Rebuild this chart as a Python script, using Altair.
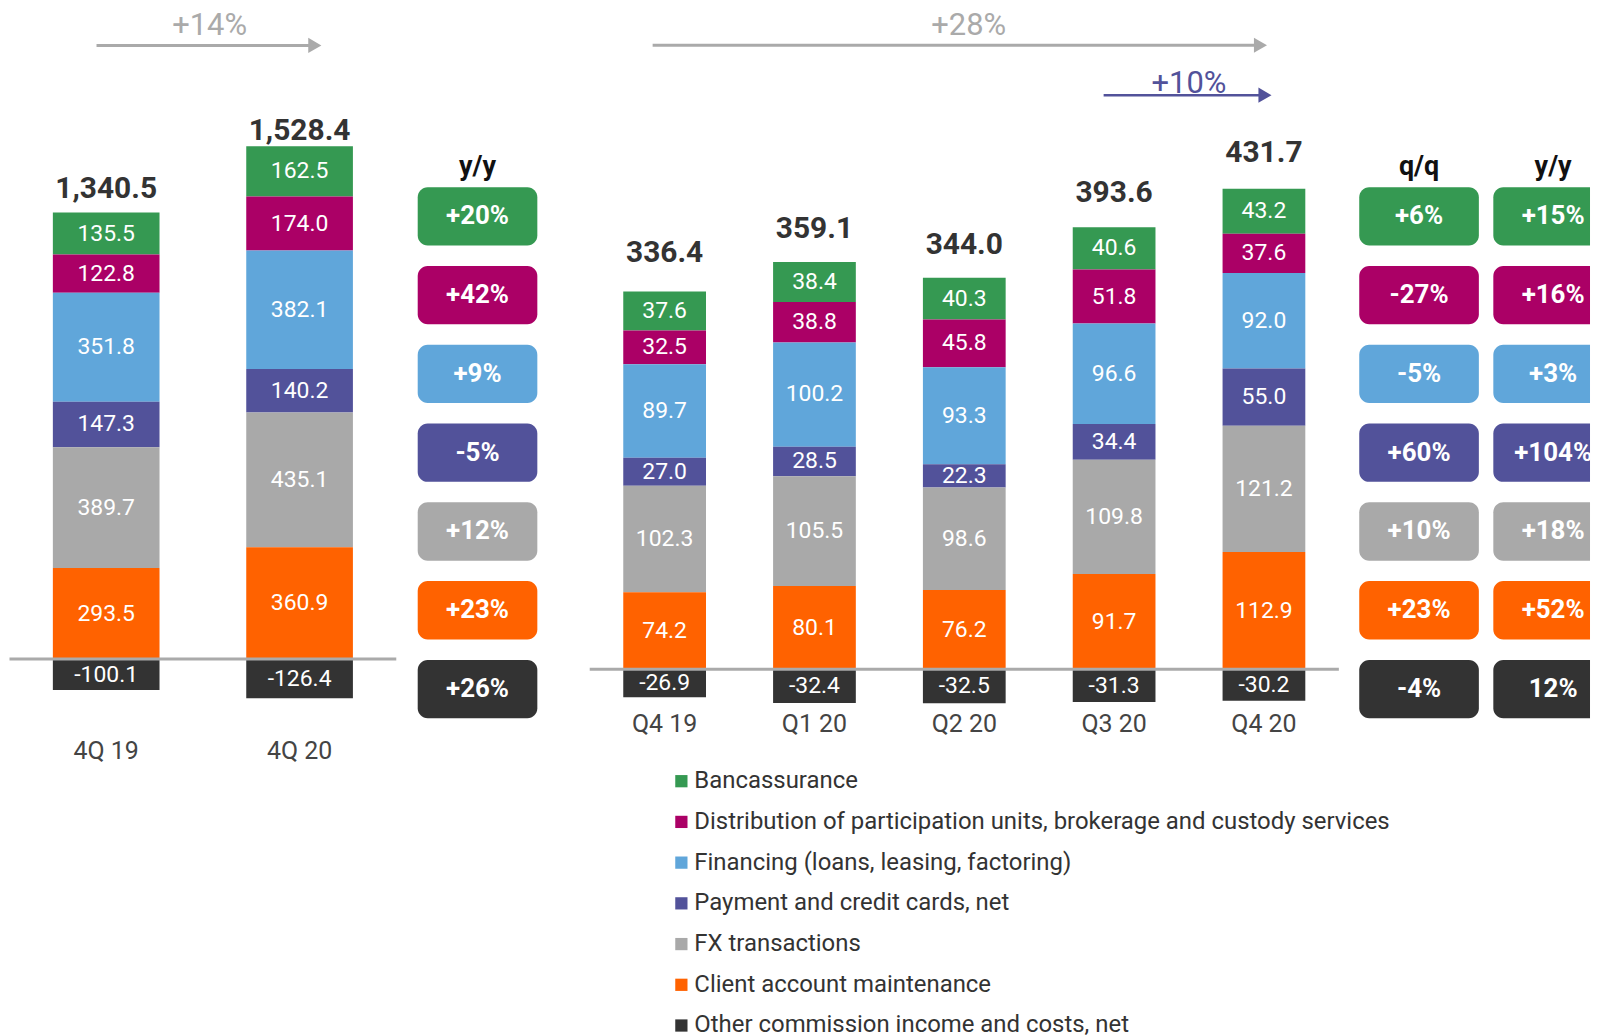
import altair as alt
import pandas as pd

FONT = "Roboto"
H = 1027  # panel height (px)

# ---------------- data ----------------
categories = [
    "Bancassurance",
    "Distribution of participation units, brokerage and custody services",
    "Financing (loans, leasing, factoring)",
    "Payment and credit cards, net",
    "FX transactions",
    "Client account maintenance",
    "Other commission income and costs, net",
]
colors = ["#359952", "#AB0066", "#60A6DA", "#52529A", "#A9A9A9", "#FF6200", "#333333"]
# stacking order from the zero line outwards
stack_rank = [5, 4, 3, 2, 1, 0, 6]

annual_periods = ["4Q 19", "4Q 20"]
bancassurance_a = [135.5, 162.5]
distribution_a = [122.8, 174.0]
financing_a = [351.8, 382.1]
payment_a = [147.3, 140.2]
fx_a = [389.7, 435.1]
client_a = [293.5, 360.9]
other_a = [-100.1, -126.4]
annual_totals = ["1,340.5", "1,528.4"]
annual_yy = ["+20%", "+42%", "+9%", "-5%", "+12%", "+23%", "+26%"]

quarters = ["Q4 19", "Q1 20", "Q2 20", "Q3 20", "Q4 20"]
bancassurance_q = [37.6, 38.4, 40.3, 40.6, 43.2]
distribution_q = [32.5, 38.8, 45.8, 51.8, 37.6]
financing_q = [89.7, 100.2, 93.3, 96.6, 92.0]
payment_q = [27.0, 28.5, 22.3, 34.4, 55.0]
fx_q = [102.3, 105.5, 98.6, 109.8, 121.2]
client_q = [74.2, 80.1, 76.2, 91.7, 112.9]
other_q = [-26.9, -32.4, -32.5, -31.3, -30.2]
quarter_totals = ["336.4", "359.1", "344.0", "393.6", "431.7"]
quarter_qq = ["+6%", "-27%", "-5%", "+60%", "+10%", "+23%", "-4%"]
quarter_yy = ["+15%", "+16%", "+3%", "+104%", "+18%", "+52%", "12%"]

annual_arrow_labels = ["+14%"]
quarter_arrow_labels = ["+28%", "+10%"]

GRAY = "#AAAAAA"
PURPLE = "#52529A"

color_scale = alt.Scale(domain=categories, range=colors)


def long_df(periods, series):
    rows = []
    for ci, (cat, vals) in enumerate(zip(categories, series)):
        for pi, (p, v) in enumerate(zip(periods, vals)):
            rows.append(dict(period=p, idx=pi, category=cat, value=v,
                             rank=stack_rank[ci], label=f"{v:.1f}"))
    return pd.DataFrame(rows)


def bar_panel(periods, series, totals, width, first_px, step_px, bar_px,
              base_px, k, cat_px, total_dy, arrows, legend):
    n = len(periods)
    xs = alt.Scale(domain=[-first_px / step_px, (width - first_px) / step_px], nice=False, zero=False)
    ys = alt.Scale(domain=[-(H - base_px) / k, base_px / k], nice=False, zero=False)

    def X(f):
        return alt.X(f, scale=xs, axis=None)

    def Y(f):
        return alt.Y(f, scale=ys, axis=None)

    half = bar_px / step_px / 2
    df = long_df(periods, series)
    stacked = (
        alt.Chart(df)
        .transform_stack(stack="value", groupby=["period"], as_=["y0", "y1"],
                         sort=[alt.SortField("rank", order="ascending")])
        .transform_calculate(xl=f"datum.idx - {half}", xr=f"datum.idx + {half}",
                             ym="(datum.y0 + datum.y1) / 2")
    )
    bars = stacked.mark_rect().encode(
        x=X("xl:Q"), x2="xr:Q", y=Y("y0:Q"), y2="y1:Q",
        color=alt.Color("category:N", scale=color_scale, legend=legend),
    )
    seg = stacked.mark_text(color="white", fontSize=23, font=FONT, baseline="middle").encode(
        x=X("idx:Q"), y=Y("ym:Q"), text="label:N")

    # totals are anchored at the net total of each bar
    nets = [sum(s[p] for s in series) for p in range(n)]
    tot_df = pd.DataFrame({"idx": list(range(n)), "label": totals, "net": nets})
    tot = alt.Chart(tot_df).mark_text(fontSize=30, fontWeight="bold", font=FONT, color="#333333",
                                      baseline="middle", dy=-total_dy).encode(
        x=X("idx:Q"), y=Y("net:Q"), text="label:N")

    cat_df = pd.DataFrame({"idx": list(range(n)), "period": periods,
                           "y": [(base_px - cat_px) / k] * n})
    cats = alt.Chart(cat_df).mark_text(fontSize=25, font=FONT, color="#444444", baseline="middle").encode(
        x=X("idx:Q"), y=Y("y:Q"), text="period:N")

    rule_df = pd.DataFrame({"xa": [-0.5], "xb": [n - 0.5], "y": [0.0]})
    rule = alt.Chart(rule_df).mark_rule(color=GRAY, strokeWidth=3).encode(
        x=X("xa:Q"), x2="xb:Q", y=Y("y:Q"))

    layers = [bars, rule, seg, tot, cats]
    for a in arrows:
        head_len = 16
        adf = pd.DataFrame({
            "xa": [a["x_from"]],
            "xh": [a["x_to"] - head_len / 2 / step_px],
            "y": [a["y"]],
            "tx": [a["label_x"]],
            "ty": [a["label_y"]],
            "label": [a["label"]],
        })
        layers.append(alt.Chart(adf).mark_rule(color=a["color"], strokeWidth=a["w"]).encode(
            x=X("xa:Q"), x2="xh:Q", y=Y("y:Q")))
        layers.append(alt.Chart(adf).mark_point(shape="triangle-right", filled=True, size=230,
                                                color=a["color"], opacity=1).encode(
            x=X("xh:Q"), y=Y("y:Q")))
        layers.append(alt.Chart(adf).mark_text(fontSize=a["fs"], font=FONT, color=a["color"],
                                               fontWeight=a["weight"], baseline="alphabetic").encode(
            x=X("tx:Q"), y=Y("ty:Q"), text="label:N"))
    return alt.layer(*layers).properties(width=width, height=H)


def badge_panel(values, header, width, center_px, clip=False):
    bw, bh, row0, rstep, header_px = 120, 58.5, 206.4, 79.03, 156.4
    xs = alt.Scale(domain=[-center_px / bw, (width - center_px) / bw], nice=False, zero=False)
    ys = alt.Scale(domain=[-row0 / rstep, (H - row0) / rstep], reverse=True, nice=False, zero=False)
    df = pd.DataFrame({
        "row": list(range(len(values))),
        "label": values,
        "category": categories,
    })
    df["yt"] = df["row"] - bh / 2 / rstep
    df["yb"] = df["row"] + bh / 2 / rstep
    df["xl"] = -0.5
    df["xr"] = 0.5
    df["xc"] = 0.0
    rect = alt.Chart(df).mark_rect(cornerRadius=10, clip=clip).encode(
        x=alt.X("xl:Q", scale=xs, axis=None), x2="xr:Q",
        y=alt.Y("yt:Q", scale=ys, axis=None), y2="yb:Q",
        color=alt.Color("category:N", scale=color_scale, legend=None))
    txt = alt.Chart(df).mark_text(color="white", fontSize=26, fontWeight="bold", font=FONT,
                                  baseline="middle").encode(
        x=alt.X("xc:Q", scale=xs, axis=None), y=alt.Y("row:Q", scale=ys, axis=None), text="label:N")
    hdf = pd.DataFrame({"xc": [0.0], "row": [(header_px - row0) / rstep], "label": [header]})
    head = alt.Chart(hdf).mark_text(color="#111111", fontSize=27, fontWeight="bold", font=FONT,
                                    baseline="middle").encode(
        x=alt.X("xc:Q", scale=xs, axis=None), y=alt.Y("row:Q", scale=ys, axis=None), text="label:N")
    return alt.layer(rect, txt, head).properties(width=width, height=H)


annual_arrows = [dict(label=annual_arrow_labels[0], x_from=-0.05, x_to=1.12, y=1980,
                      label_x=0.535, label_y=2013, color=GRAY, w=3, weight="normal", fs=31)]
quarter_arrows = [
    dict(label=quarter_arrow_labels[0], x_from=-0.08, x_to=4.03, y=600,
         label_x=2.03, label_y=609.6, color=GRAY, w=3, weight="normal", fs=31),
    dict(label=quarter_arrow_labels[1], x_from=2.93, x_to=4.06, y=552,
         label_x=3.50, label_y=554.5, color=PURPLE, w=2.5, weight="normal", fs=31),
]

legend = alt.Legend(
    orient="none", legendX=79.5, legendY=761, title=None, direction="vertical",
    symbolType="square", symbolSize=151, symbolStrokeWidth=0, symbolOpacity=1,
    labelFont=FONT, labelFontSize=24, labelColor="#333333", labelLimit=1200,
    labelOffset=1, rowPadding=16.85, padding=0,
)

p1 = bar_panel(annual_periods,
               [bancassurance_a, distribution_a, financing_a, payment_a, fx_a, client_a, other_a],
               annual_totals, 400, 96.5, 194, 107, 650.5, 0.3109, 742.4, 55, annual_arrows, None)
p2 = badge_panel(annual_yy, "y/y", 182, 69)
p3 = bar_panel(quarters,
               [bancassurance_q, distribution_q, financing_q, payment_q, fx_q, client_q, other_q],
               quarter_totals, 758, 74.7, 150.3, 83, 660.8, 1.0435, 715.9, 67, quarter_arrows, legend)
p4 = badge_panel(quarter_qq, "q/q", 134, 73.5)
p5 = badge_panel(quarter_yy, "y/y", 111, 74, clip=True)

chart = (
    alt.hconcat(p1, p2, p3, p4, p5, spacing=0, bounds="flush")
    .resolve_scale(color="independent", x="independent", y="independent")
    .resolve_legend(color="independent")
    .properties(padding=0, background="white")
    .configure_view(stroke=None)
)

chart.save("out.html", embed_options={"renderer": "svg", "actions": False})
